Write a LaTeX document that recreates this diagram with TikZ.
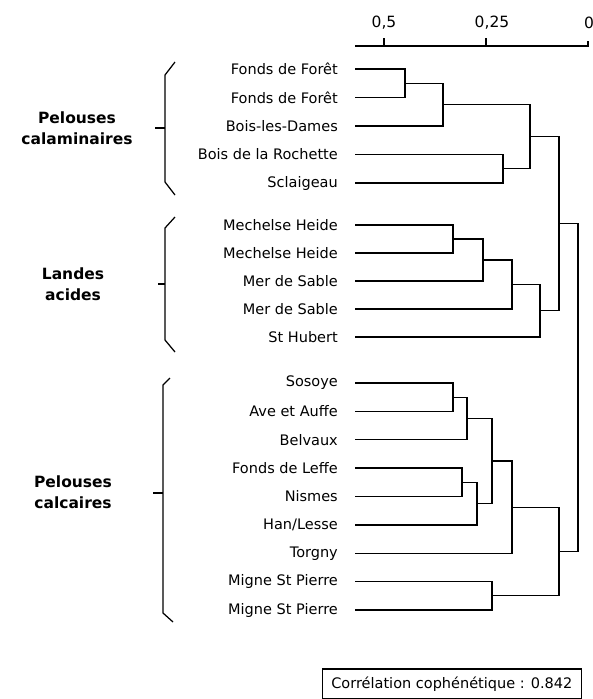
\documentclass[tikz,border=0pt]{standalone}
\usepackage{fontspec}
\setmainfont{DejaVu Sans}
\tikzset{
  leaf/.style={anchor=east, inner sep=0pt, font=\fontsize{14.5}{16}\selectfont},
  grouplab/.style={align=center, inner sep=0pt, font=\fontsize{15.5}{21}\selectfont\bfseries},
  axislab/.style={inner sep=0pt, font=\fontsize{15.5}{17}\selectfont},
  dendro/.style={line width=1.25pt},
  bracestyle/.style={line width=1.25pt, line join=round},
  infobox/.style={draw, line width=1.25pt, anchor=east, minimum height=30pt, inner xsep=9pt, font=\fontsize{14.5}{16}\selectfont}
}
\begin{document}
\begin{tikzpicture}[x=1pt,y=-1pt]
\useasboundingbox (0,0) rectangle (593,699);

% axis
\coordinate (ax0) at (355,46);
\coordinate (ax1) at (588,46);
\coordinate (ax1top) at (588,41);
\draw[dendro] (ax0) -- (ax1) -- (ax1top);
\draw[dendro] (384,46) -- (384,38);
\draw[dendro] (486,46) -- (486,38);
\node[axislab] (t05) at (384,23) {0,5};
\node[axislab] (t025) at (492,23) {0,25};
\node[axislab] (t0) at (589,23) {0};

% leaves
\foreach \n/\y/\t in {
  1/69/{Fonds de Forêt},
  2/97.5/{Fonds de Forêt},
  3/126/{Bois-les-Dames},
  4/154.5/{Bois de la Rochette},
  5/183/{Sclaigeau},
  6/225/{Mechelse Heide},
  7/253/{Mechelse Heide},
  8/281/{Mer de Sable},
  9/309/{Mer de Sable},
  10/337/{St Hubert},
  11/383/{Sosoye},
  12/411.4/{Ave et Auffe},
  13/439.8/{Belvaux},
  14/468.1/{Fonds de Leffe},
  15/496.5/{Nismes},
  16/524.9/{Han/Lesse},
  17/553.3/{Torgny},
  18/581.6/{Migne St Pierre},
  19/610/{Migne St Pierre}}
{
  \node[leaf] (lab\n) at (338,\y) {\t};
  \coordinate (l\n) at (355,\y);
}

% internal nodes
\coordinate (n1) at (405,83.25);
\coordinate (n2) at (443,104.6);
\coordinate (n3) at (503,168.75);
\coordinate (n4) at (530,136.7);
\coordinate (n5) at (453,239);
\coordinate (n6) at (483,260);
\coordinate (n7) at (512,284.5);
\coordinate (n8) at (540,310.75);
\coordinate (n9) at (559,223.7);
\coordinate (n10) at (453,397.2);
\coordinate (n11) at (467,418.5);
\coordinate (n12) at (462,482.3);
\coordinate (n13) at (477,503.6);
\coordinate (n14) at (492,461);
\coordinate (n15) at (512,507.2);
\coordinate (n16) at (492,595.8);
\coordinate (n17) at (559,551.5);
\coordinate (n18) at (578,387.6);

\foreach \c/\p in {l1/n1,l2/n1,n1/n2,l3/n2,l4/n3,l5/n3,n2/n4,n3/n4,
  l6/n5,l7/n5,n5/n6,l8/n6,n6/n7,l9/n7,n7/n8,l10/n8,n4/n9,n8/n9,
  l11/n10,l12/n10,n10/n11,l13/n11,l14/n12,l15/n12,n12/n13,l16/n13,
  n11/n14,n13/n14,n14/n15,l17/n15,l18/n16,l19/n16,n15/n17,n16/n17,
  n9/n18,n17/n18}
{
  \draw[dendro] (\c) -| (\p);
}

% braces
\draw[bracestyle] (175,62) -- (165,75) -- (165,182) -- (175,195);
\draw[bracestyle] (155,128) -- (165,128);
\draw[bracestyle] (175,217) -- (165,228) -- (165,340) -- (175,352);
\draw[bracestyle] (158,284) -- (165,284);
\draw[bracestyle] (170,378) -- (163,385) -- (163,613) -- (173,622);
\draw[bracestyle] (153,493) -- (163,493);

% group labels
\node[grouplab] (g1) at (77,128.5) {Pelouses\\calaminaires};
\node[grouplab] (g2) at (73,284) {Landes\\acides};
\node[grouplab] (g3) at (73,492.5) {Pelouses\\calcaires};

% info box
\node[infobox] (info) at (582,684) {Corrélation cophénétique : 0.842};
\end{tikzpicture}
\end{document}
